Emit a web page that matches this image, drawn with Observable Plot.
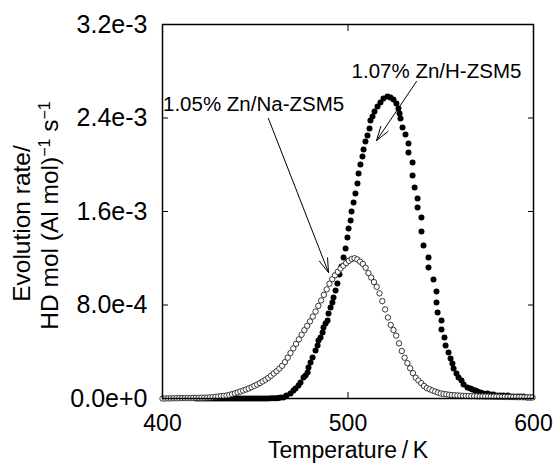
<!DOCTYPE html>
<html><head><meta charset="utf-8">
<script src="https://cdn.jsdelivr.net/npm/d3@7"></script>
<script src="https://cdn.jsdelivr.net/npm/@observablehq/plot@0.6"></script>
<style>
html,body{margin:0;padding:0;background:#fff;}
#chart svg{display:block;}
</style></head><body><div id="chart"></div>
<script>
// Rates are in units of 1e-4 HD mol (Al mol)^-1 s^-1
const RATE_UNIT = 1e-4;

// 1.07% Zn/H-ZSM5 (filled circles): [Temperature K, rate x1e-4]
const znH = [
[418,0],[419.5,0],[421,0],[422.5,0],[424,0],[425.5,0],[427,0],[428.5,0],[430,0],[431.5,0],
[433,0],[434.5,0],[436,0],[437.5,0],[439,0],[440.5,0],[442,0],[443.5,0],[445,0],[446.5,0],
[448,0],[449.5,0],[451,0],[452.5,0],[454,0],[455.5,0],[457,0],[458.5,0.02],[460,0.02],[461.5,0.03],[462.5,0.05],
[463.6,0.09],[465.2,0.09],[466.8,0.26],[469.0,0.43],[470.6,0.68],[471.7,0.86],[473.3,1.11],[474.4,1.37],[476.0,1.80],[477.1,1.97],
[478.2,2.22],[478.7,2.65],[479.8,3.08],[480.9,3.51],[482.5,4.11],[483.6,4.53],[484.1,4.96],[485.2,5.22],[486.3,5.65],[486.8,6.07],
[487.9,6.42],[489.0,6.67],[489.5,7.27],[490.6,7.79],[491.6,8.21],[492.2,8.64],[493.3,9.24],[494.3,9.84],[495.4,10.61],[496.5,11.29],
[497.6,12.06],[498.7,12.83],[499.7,13.77],[500.3,14.55],[501.4,15.23],[501.9,16.00],[503.0,16.77],[504.0,17.54],[505.1,18.40],[505.7,19.25],
[506.7,20.02],[507.8,20.71],[508.4,21.30],[509.4,21.99],[510.5,22.50],[511.6,23.10],[512.1,23.79],[513.2,24.13],[514.3,24.56],[515.9,24.98],
[517.5,25.33],[519.1,25.67],[521.3,25.84],[522.9,25.76],[524.5,25.59],[526.1,25.24],[527.2,24.81],[527.8,24.38],[528.3,23.96],[529.4,23.19],
[531.0,22.59],[532.6,21.82],[532.6,21.05],[534.8,20.19],[534.8,19.08],[535.9,18.05],[537.5,17.11],[537.5,16.34],[539.6,15.49],[539.6,14.29],
[540.7,13.09],[543.4,12.06],[543.4,11.21],[546.1,10.18],[547.7,9.15],[547.7,8.21],[548.3,7.36],[550.4,6.67],[550.4,5.90],[552.0,5.22],
[552.6,4.53],[554.2,3.94],[555.3,3.42],[556.3,3.00],[556.9,2.57],[558.5,2.14],[559.6,1.80],[561.2,1.54],[562.3,1.20],[564.4,0.94],
[566.0,0.86],[567.1,0.77],[568.7,0.68],[569.8,0.60],[571.4,0.51],[573.1,0.43],[575.2,0.43],[576.8,0.34],[578.4,0.34],[580.6,0.26],
[582.2,0.26],[583.8,0.26],[586.0,0.26],[587.6,0.17],[589.2,0.17],[591.4,0.17],[593.0,0.17],[594.6,0.17],[596.8,0.09],[598.4,0.09]
];

// 1.05% Zn/Na-ZSM5 (open circles): [Temperature K, rate x1e-4]
const znNa = [
[400,0.00],[401.5,0.00],[403,0.01],[404.5,0.01],[406,0.02],[407.5,0.02],[409,0.03],[410.5,0.03],[412,0.03],[413.5,0.04],
[415,0.04],[416.5,0.05],[418,0.05],[419.5,0.06],[421,0.07],[422.5,0.07],[424,0.08],[425.5,0.09],[427,0.11],[428.5,0.14],
[430,0.17],[431.5,0.20],[433,0.22],[434.5,0.25],[436,0.31],[437.5,0.37],[439,0.44],[440.5,0.52],[442,0.60],[443.5,0.68],
[445,0.77],[446.5,0.86],[448,0.97],[449.5,1.08],[451,1.19],[452.5,1.32],[454,1.46],[455.5,1.61],[457,1.76],[458.5,1.95],
[460,2.14],[461.5,2.34],[463,2.56],[464.5,2.80],[466,3.11],[467.5,3.49],[469,3.89],[470.5,4.29],[472,4.67],[473.5,5.06],
[475,5.46],[476.5,5.85],[478,6.22],[479.5,6.60],[481,7.01],[482.5,7.44],[484,7.92],[485.5,8.39],[487,8.87],[488.5,9.34],
[490,9.82],[491.5,10.21],[493,10.54],[494.5,10.84],[496,11.12],[497.5,11.36],[499,11.59],[500.5,11.78],[502,11.94],[503.5,12.00],
[505,11.90],[506.5,11.71],[508,11.51],[509.5,11.19],[511,10.73],[512.5,10.35],[514,9.96],[515.5,9.55],[517,9.00],[518.5,8.33],
[520,7.62],[521.5,6.93],[523,6.30],[524.5,5.86],[526,5.38],[527.5,4.72],[529,4.06],[530.5,3.49],[532,3.02],[533.5,2.59],
[535,2.17],[536.5,1.78],[538,1.54],[539.5,1.31],[541,1.07],[542.5,0.89],[544,0.79],[545.5,0.69],[547,0.60],[548.5,0.51],
[550,0.43],[551.5,0.39],[553,0.36],[554.5,0.32],[556,0.29],[557.5,0.28],[559,0.26],[560.5,0.25],[562,0.23],[563.5,0.22],
[565,0.21],[566.5,0.20],[568,0.20],[569.5,0.19],[571,0.18],[572.5,0.18],[574,0.17],[575.5,0.17],[577,0.16],[578.5,0.16],
[580,0.15],[581.5,0.15],[583,0.14],[584.5,0.14],[586,0.13],[587.5,0.13],[589,0.12],[590.5,0.12],[592,0.11],[593.5,0.11],
[595,0.10],[596.5,0.10],[598,0.09],[599.5,0.09]
];

const xTicks = [400, 500, 600];
const yTicks = [0, 8e-4, 1.6e-3, 2.4e-3, 3.2e-3];
const xLabel = "Temperature\u2009/\u2009K";
const SUP = "\u207B\u00B9";
const yLabelLines = ["Evolution rate/", "HD mol (Al mol)" + SUP + " s" + SUP];

// Annotation labels and arrows, in data units (T, rate x1e-4)
const noteLabels = [
  {text: "1.07% Zn/H-ZSM5", T: 547.7, rate: 27.98},
  {text: "1.05% Zn/Na-ZSM5", T: 449.1, rate: 25.15}
];
const noteArrows = [
  {T1: 457.1, r1: 23.96, T2: 489.5, r2: 10.78},
  {T1: 536.9, r1: 27.12, T2: 515.4, r2: 22.07}
];

const rows = (pairs) => pairs.map(([T, r]) => ({T, rate: r * RATE_UNIT}));
const hRows = rows(znH);
const naRows = rows(znNa);
const fmt = d3.format(".1e");

const chart = Plot.plot({
  width: 554,
  height: 466,
  marginLeft: 162,
  marginRight: 21,
  marginTop: 24,
  marginBottom: 68,
  style: {fontFamily: "'Liberation Sans', Arial, sans-serif", fontSize: "23px", color: "black", background: "white"},
  x: {domain: [400, 600]},
  y: {domain: [0, 3.2e-3]},
  marks: [
    Plot.dot(hRows, {x: "T", y: "rate", r: 3, fill: "black", stroke: "none"}),
    Plot.dot(naRows, {x: "T", y: "rate", r: 2.7, fill: "white", stroke: "#222", strokeWidth: 0.9}),
    Plot.arrow(noteArrows, {x1: "T1", y1: d => d.r1 * RATE_UNIT, x2: "T2", y2: d => d.r2 * RATE_UNIT,
      stroke: "black", strokeWidth: 1, headLength: 22, headAngle: 35}),
    Plot.text(noteLabels, {x: "T", y: d => d.rate * RATE_UNIT, text: "text", fontSize: 20.5, fill: "black"}),
    Plot.frame({stroke: "black", strokeWidth: 1.5}),
    Plot.axisY(yTicks, {anchor: "left", tickSize: 0, tickPadding: 15, tickFormat: fmt, label: null, fontSize: 25}),
    Plot.axisY(yTicks, {anchor: "left", tickSize: -6, fill: "none", label: null}),
    Plot.axisY(yTicks, {anchor: "right", tickSize: -6, fill: "none", label: null}),
    Plot.axisX(xTicks, {anchor: "bottom", tickSize: 0, tickPadding: 16, tickFormat: d => String(d), label: null, fontSize: 23}),
    Plot.axisX(xTicks, {anchor: "bottom", tickSize: -6, fill: "none", label: null}),
    Plot.axisX(xTicks, {anchor: "top", tickSize: -6, fill: "none", label: null}),
    Plot.text([xLabel], {frameAnchor: "bottom", lineAnchor: "middle", textAnchor: "middle", dy: 52, fontSize: 23, fill: "black"}),
    Plot.text([yLabelLines[0]], {frameAnchor: "left", rotate: -90, textAnchor: "middle", lineAnchor: "middle", dx: -140, dy: 12, fontSize: 24.5, fill: "black"}),
    Plot.text([yLabelLines[1]], {frameAnchor: "left", rotate: -90, textAnchor: "middle", lineAnchor: "middle", dx: -112, dy: 4, fontSize: 24.5, fill: "black"})
  ]
});

// Render the "-1" exponents of the second y-label line as real superscripts
const NS = "http://www.w3.org/2000/svg";
chart.querySelectorAll("text").forEach(t => {
  if (t.textContent !== yLabelLines[1]) return;
  const parts = yLabelLines[1].split(SUP);
  t.textContent = "";
  parts.forEach((p, i) => {
    if (p) {
      const s = document.createElementNS(NS, "tspan");
      s.textContent = p;
      if (i > 0) s.setAttribute("dy", "8");
      t.appendChild(s);
    }
    if (i < parts.length - 1) {
      const sup = document.createElementNS(NS, "tspan");
      sup.textContent = "\u22121";
      sup.setAttribute("font-size", "16");
      sup.setAttribute("dy", "-8");
      t.appendChild(sup);
    }
  });
});
document.getElementById("chart").appendChild(chart);
</script>
</body></html>
